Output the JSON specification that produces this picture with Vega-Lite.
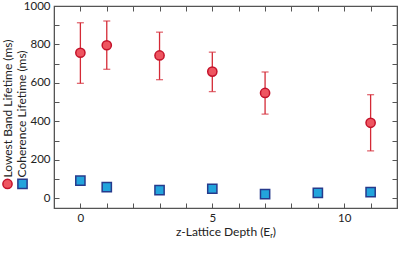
{
  "$schema": "https://vega.github.io/schema/vega-lite/v6.json",
  "autosize": "none",
  "width": 343,
  "height": 202,
  "padding": {"left": 54, "top": 6, "right": 2, "bottom": 50},
  "background": "white",
  "config": {
    "font": "Lato",
    "view": {"stroke": "#555", "strokeWidth": 1.2},
    "axis": {"labelFont": "Lato", "titleFont": "Lato", "labelFontSize": 11.5, "titleFontSize": 12, "titleFontWeight": "normal", "labelColor": "#222", "titleColor": "#222", "domainColor": "#555", "tickColor": "#555", "grid": false}
  },
  "data": {
    "values": [
      {"depth": 0, "lifetime": 757, "lo": 598, "hi": 913, "series": "Lowest Band"},
      {"depth": 1, "lifetime": 796, "lo": 671, "hi": 922, "series": "Lowest Band"},
      {"depth": 3, "lifetime": 743, "lo": 617, "hi": 864, "series": "Lowest Band"},
      {"depth": 5, "lifetime": 659, "lo": 555, "hi": 760, "series": "Lowest Band"},
      {"depth": 7, "lifetime": 548, "lo": 438, "hi": 657, "series": "Lowest Band"},
      {"depth": 11, "lifetime": 393, "lo": 247, "hi": 539, "series": "Lowest Band"},
      {"depth": 0, "lifetime": 92, "series": "Coherence"},
      {"depth": 1, "lifetime": 59, "series": "Coherence"},
      {"depth": 3, "lifetime": 43, "series": "Coherence"},
      {"depth": 5, "lifetime": 50, "series": "Coherence"},
      {"depth": 7, "lifetime": 22, "series": "Coherence"},
      {"depth": 9, "lifetime": 29, "series": "Coherence"},
      {"depth": 11, "lifetime": 33, "series": "Coherence"}
    ]
  },
  "layer": [
    {
      "transform": [{"filter": "datum.series === 'Lowest Band'"}],
      "mark": {"type": "rule", "color": "#d42a36", "strokeWidth": 1.3},
      "encoding": {
        "x": {"field": "depth", "type": "quantitative", "scale": {"domain": [-1, 12], "nice": false, "zero": false},
          "axis": {"orient": "bottom", "values": [-1,0,1,2,3,4,5,6,7,8,9,10,11,12], "labelExpr": "datum.value % 5 === 0 ? datum.label : ''", "tickSize": -5, "labelPadding": 9, "title": "z-Lattice Depth (Eᵣ)", "titlePadding": 3}},
        "y": {"field": "lo", "type": "quantitative", "scale": {"domain": [-50, 1000], "nice": false, "zero": false},
          "axis": {"orient": "left", "values": [0,100,200,300,400,500,600,700,800,900,1000], "labelExpr": "datum.value % 200 === 0 ? datum.label : ''", "format": "d", "tickSize": -5, "labelPadding": 9, "title": ["Lowest Band Lifetime (ms)", "Coherence Lifetime (ms)"], "titleAnchor": "start", "titleAlign": "left", "titleBaseline": "top", "titleX": -52, "titleY": 171, "titleLineHeight": 14.5}},
        "y2": {"field": "hi"}
      }
    },
    {
      "transform": [{"filter": "datum.series === 'Lowest Band'"}],
      "mark": {"type": "tick", "color": "#d42a36", "thickness": 1.3, "size": 7, "orient": "horizontal"},
      "encoding": {
        "x": {"field": "depth", "type": "quantitative",
          "axis": {"orient": "top", "values": [-1,0,1,2,3,4,5,6,7,8,9,10,11,12], "labels": false, "tickSize": -5, "title": null}},
        "y": {"field": "hi", "type": "quantitative",
          "axis": {"orient": "right", "values": [0,100,200,300,400,500,600,700,800,900,1000], "labels": false, "tickSize": -5, "title": null}}
      }
    },
    {
      "transform": [{"filter": "datum.series === 'Lowest Band'"}],
      "mark": {"type": "tick", "color": "#d42a36", "thickness": 1.3, "size": 7, "orient": "horizontal"},
      "encoding": {
        "x": {"field": "depth", "type": "quantitative", "axis": null},
        "y": {"field": "lo", "type": "quantitative", "axis": null}
      }
    },
    {
      "mark": {"type": "point", "filled": true, "strokeWidth": 1.5, "size": 85, "opacity": 1},
      "encoding": {
        "x": {"field": "depth", "type": "quantitative", "axis": null},
        "y": {"field": "lifetime", "type": "quantitative", "axis": null},
        "fill": {"field": "series", "type": "nominal", "scale": {"domain": ["Lowest Band", "Coherence"], "range": ["#ee5560", "#22a4dc"]},
          "legend": {"orient": "none", "legendX": -52, "legendY": 172, "direction": "horizontal", "title": null, "labelExpr": "''", "labelOffset": 0, "labelLimit": 1, "columnPadding": -2, "symbolSize": 85, "padding": 0, "symbolStrokeWidth": 1.5}},
        "stroke": {"field": "series", "type": "nominal", "scale": {"domain": ["Lowest Band", "Coherence"], "range": ["#c4122a", "#263a8c"]}},
        "shape": {"field": "series", "type": "nominal", "scale": {"domain": ["Lowest Band", "Coherence"], "range": ["circle", "square"]}}
      }
    }
  ],
  "resolve": {"axis": {"x": "independent", "y": "independent"}}
}
